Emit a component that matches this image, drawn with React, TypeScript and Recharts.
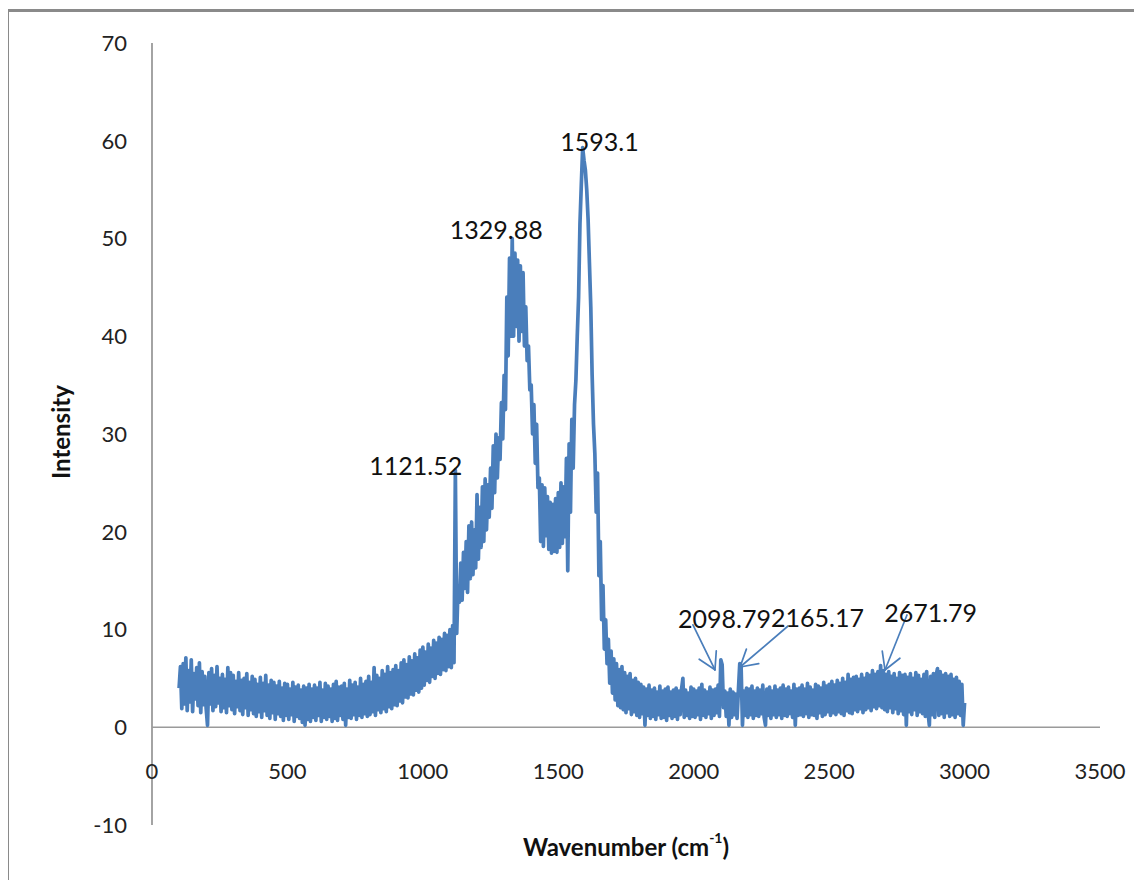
import React from 'react';
import { LineChart, Line, XAxis, YAxis, ReferenceLine, ReferenceDot, Label } from 'recharts';

// Wavenumber sampling of the spectrum (cm^-1)
const wavenumberStart = 100;
const wavenumberStep = 5;

// Intensity values, one row per 100 cm^-1
const lowBaseline = [
  4.0, 6.2, 1.9, 6.5, 2.4, 7.1, 1.7, 5.8, 2.6, 6.9, 1.6, 5.5, 2.9, 6.1, 2.2, 6.6, 1.5, 5.7, 2.3, 5.2,
  1.9, 0.2, 5.6, 2.4, 6.0, 1.7, 5.3, 2.1, 6.2, 2.5, 5.0, 1.6, 5.4, 2.0, 4.9, 1.5, 6.1, 2.2, 5.6, 1.8,
  5.3, 1.4, 4.7, 2.1, 5.6, 1.7, 4.8, 1.3, 5.0, 2.0, 5.5, 1.2, 4.6, 1.8, 5.2, 1.4, 4.9, 1.1, 4.4, 1.6,
  5.1, 1.0, 4.5, 1.7, 5.3, 1.2, 4.3, 0.9, 4.8, 1.5, 4.6, 0.8, 4.2, 1.4, 4.7, 1.1, 4.0, 0.7, 4.5, 1.2,
  4.4, 0.8, 3.9, 1.3, 4.6, 0.6, 4.1, 1.1, 4.3, 0.9, 3.8, 0.5, 4.2, 0.2, 4.0, 0.8, 4.4, 0.6, 3.9, 1.0,
  4.3, 0.7, 4.0, 1.2, 4.6, 0.6, 3.8, 1.0, 4.5, 0.8, 4.2, 1.1, 3.9, 0.6, 4.4, 0.9, 4.7, 0.7, 4.1, 1.2,
  4.2, 0.8, 4.5, 0.2, 3.9, 1.0, 4.8, 0.9, 4.3, 1.3, 4.6, 0.8, 4.1, 1.2, 5.0, 1.0, 4.4, 1.4, 4.7, 1.1,
  5.2, 1.3, 4.6, 1.6, 6.1, 1.2, 5.3, 1.8, 5.0, 1.5, 5.8, 1.9, 5.4, 1.6, 6.2, 2.1, 5.6, 1.9, 5.9, 2.3,
  6.3, 2.2, 5.8, 2.7, 6.6, 2.5, 6.9, 3.1, 6.4, 3.0, 7.2, 3.4, 6.8, 3.3, 7.5, 3.8, 7.1, 3.6, 7.9, 4.0,
];
const dgBands = [
  8.2, 4.3, 7.7, 4.8, 8.5, 4.6, 8.1, 5.2, 8.9, 5.0, 8.6, 5.5, 9.2, 5.4, 9.0, 5.9, 9.6, 5.8, 9.4, 6.2,
  10.0, 6.1, 10.4, 6.6, 26.3, 9.6, 14.5, 12.8, 16.8, 13.0, 17.9, 14.2, 19.0, 13.8, 20.6, 15.2, 21.0, 15.6, 20.2, 16.3,
  23.8, 17.2, 22.5, 18.4, 24.6, 19.0, 25.4, 20.2, 24.8, 21.5, 26.5, 22.4, 28.8, 24.0, 30.0, 25.5, 29.6, 27.4, 33.2, 29.5,
  36.0, 32.5, 44.0, 38.0, 48.0, 40.0, 50.0, 40.0, 48.5, 41.0, 47.8, 39.5, 47.2, 40.5, 46.5, 39.0, 43.0, 37.5, 39.0, 34.5,
  35.0, 30.0, 33.0, 27.0, 31.0, 24.5, 25.5, 19.0, 24.8, 18.5, 24.5, 19.6, 23.6, 18.2, 23.0, 17.8, 22.8, 18.0, 23.4, 17.9,
  24.0, 18.4, 25.0, 18.8, 24.6, 19.5, 27.5, 16.0, 29.0, 22.0, 31.5, 26.5, 33.0, 35.5, 40.0, 44.0, 51.5, 55.5, 59.3, 58.0,
];
const tailRegion = [
  57.0, 55.0, 52.0, 47.5, 43.0, 36.0, 31.0, 28.0, 22.0, 26.0, 15.5, 19.0, 11.0, 14.5, 8.0, 11.0, 6.5, 9.0, 4.5, 7.8,
  3.5, 7.0, 2.8, 6.5, 2.2, 5.9, 2.0, 6.2, 1.8, 5.6, 1.5, 5.2, 1.9, 5.5, 1.3, 4.8, 1.6, 5.0, 1.2, 4.6,
  1.0, 4.4, 1.4, 4.1, 0.2, 3.9, 1.2, 4.3, 0.9, 3.8, 1.1, 4.0, 0.8, 3.6, 1.3, 4.2, 0.9, 3.7, 1.0, 3.9,
  0.7, 4.1, 1.2, 3.6, 0.9, 3.8, 1.1, 4.0, 0.8, 3.7, 1.3, 3.9, 5.0, 1.0, 3.8, 1.2, 3.5, 0.9, 4.1, 1.1,
  3.9, 1.0, 3.7, 1.3, 4.0, 0.8, 4.4, 1.2, 3.8, 1.0, 3.6, 1.4, 4.1, 0.9, 3.8, 1.2, 3.9, 1.5, 4.3, 1.1,
  6.9, 6.4, 2.0, 3.7, 1.1, 3.5, 0.2, 3.9, 1.0, 3.6, 1.3, 3.4, 0.9, 3.8, 6.5, 6.2, 0.2, 3.7, 1.2, 4.0,
  1.0, 3.9, 1.3, 4.2, 0.9, 3.7, 1.2, 4.0, 1.1, 3.8, 1.4, 4.3, 1.0, 0.2, 3.9, 1.2, 4.1, 0.9, 3.7, 1.3,
];
const highRegion = [
  4.2, 1.0, 3.8, 1.3, 4.0, 0.9, 4.3, 1.2, 3.9, 1.1, 4.1, 1.4, 3.7, 1.0, 4.4, 0.2, 3.9, 1.2, 4.0, 1.3,
  4.3, 1.1, 3.9, 1.4, 4.5, 1.0, 4.1, 1.3, 3.8, 1.2, 4.4, 0.9, 4.2, 1.5, 4.0, 1.1, 4.6, 1.3, 4.2, 1.6,
  4.4, 1.2, 4.7, 1.5, 4.3, 1.3, 4.8, 1.6, 4.5, 1.4, 5.0, 1.2, 4.6, 1.7, 5.4, 1.5, 4.9, 1.4, 5.1, 1.8,
  5.2, 1.6, 4.9, 1.9, 5.4, 1.5, 5.0, 1.8, 5.5, 2.0, 5.3, 1.7, 5.8, 2.1, 5.4, 1.9, 5.7, 2.2, 6.3, 2.0,
  5.8, 1.8, 5.4, 1.6, 5.7, 2.0, 5.2, 1.5, 5.5, 1.9, 5.0, 1.4, 5.6, 1.7, 5.3, 1.3, 5.4, 0.2, 5.1, 1.6,
  5.5, 1.3, 5.0, 1.8, 5.6, 1.2, 5.3, 1.6, 4.9, 1.4, 5.4, 1.1, 5.7, 1.5, 0.2, 5.2, 1.3, 5.5, 1.0, 5.3,
  6.0, 1.2, 5.7, 1.4, 5.3, 1.0, 5.5, 1.5, 5.2, 1.1, 5.4, 1.3, 4.9, 1.0, 5.1, 1.4, 4.7, 1.2, 4.4, 0.2,
  2.5,
];

const xTicks = [0, 500, 1000, 1500, 2000, 2500, 3000, 3500];
const yTicks = [-10, 0, 10, 20, 30, 40, 50, 60, 70];

const peakLabels = ['1121.52', '1329.88', '1593.1', '2098.79', '2165.17', '2671.79'];
const peakWavenumbers = [1121.52, 1329.88, 1593.1, 2098.79, 2165.17, 2671.79];
const peakIntensities = [26.3, 50.0, 59.3, 6.9, 6.5, 6.3];

const intensities = [...lowBaseline, ...dgBands, ...tailRegion, ...highRegion];
const data = intensities.map((v, i) => ({
  wavenumber: wavenumberStart + i * wavenumberStep,
  intensity: v,
}));

// ---- layout / style ----
const FONT = 'Lato, "Open Sans", "DejaVu Sans", sans-serif';
const LINE_COLOR = '#4a7ebb';
const AXIS_COLOR = '#9a9a9a';
const BORDER_COLOR = '#8a8a8a';
const TICK_FONT = 22;
const ANNOT_FONT = 25;
const TITLE_FONT = 24;
const X_TICK_OFFSET = -55;

const labelLayout: Record<string, any> = {
  '1121.52': { dx: -40, dy: -5 },
  '1329.88': { dx: -16, dy: -10 },
  '1593.1': { dx: 16, dy: -7 },
  '2098.79': { dx: 4, dy: -42, arrow: { sx: -27.5, sy: -35, tx: -5.5, ty: 10 } },
  '2165.17': { dx: 79, dy: -47, arrow: { sx: 49.6, sy: -37.7, tx: 1.6, ty: 3.3 } },
  '2671.79': { dx: 55, dy: -54, arrow: { sx: 31.3, sy: -50.7, tx: 9.3, ty: 4.3 } },
};

function Arrow({ x1, y1, x2, y2 }: any) {
  const ang = Math.atan2(y2 - y1, x2 - x1);
  const len = 19;
  const spread = Math.PI / 6;
  const a1 = ang + Math.PI - spread;
  const a2 = ang + Math.PI + spread;
  return (
    <g stroke={LINE_COLOR} strokeWidth={1.7} fill="none" strokeLinecap="round">
      <line x1={x1} y1={y1} x2={x2} y2={y2} />
      <line x1={x2} y1={y2} x2={x2 + len * Math.cos(a1)} y2={y2 + len * Math.sin(a1)} />
      <line x1={x2} y1={y2} x2={x2 + len * Math.cos(a2)} y2={y2 + len * Math.sin(a2)} />
    </g>
  );
}

function makeAnnotation(label: string) {
  return (p: any) => {
    const l = labelLayout[label];
    const cx = p.cx;
    const cy = p.cy;
    return (
      <g>
        {l.arrow && (
          <Arrow x1={cx + l.arrow.sx} y1={cy + l.arrow.sy} x2={cx + l.arrow.tx} y2={cy + l.arrow.ty} />
        )}
        <text
          x={cx + l.dx}
          y={cy + l.dy}
          textAnchor="middle"
          dominantBaseline="central"
          fontFamily={FONT}
          fontSize={ANNOT_FONT}
          fill="#111"
        >
          {label}
        </text>
      </g>
    );
  };
}

function XTick({ x, y, payload }: any) {
  return (
    <text
      x={x}
      y={y + X_TICK_OFFSET}
      textAnchor="middle"
      dominantBaseline="central"
      fontFamily={FONT}
      fontSize={TICK_FONT}
      fill="#222"
    >
      {payload.value}
    </text>
  );
}

function XTitle(props: any) {
  const vb = props.viewBox || { x: 144, y: 817, width: 948 };
  return (
    <text
      x={vb.x + vb.width / 2}
      y={vb.y + 21}
      textAnchor="middle"
      dominantBaseline="central"
      fontFamily={FONT}
      fontSize={TITLE_FONT}
      fontWeight="bold"
      fill="#111"
    >
      <tspan>Wavenumber (cm</tspan>
      <tspan dy={-9} fontSize={14}>-1</tspan>
      <tspan dy={9}>)</tspan>
    </text>
  );
}

function YTitle(props: any) {
  const vb = props.viewBox || { x: 0, y: 35, width: 144, height: 782 };
  const x = vb.x + 52;
  const y = vb.y + vb.height / 2 - 2;
  return (
    <text
      x={x}
      y={y}
      transform={`rotate(-90, ${x}, ${y})`}
      textAnchor="middle"
      dominantBaseline="central"
      fontFamily={FONT}
      fontSize={TITLE_FONT}
      fontWeight="bold"
      fill="#111"
    >
      Intensity
    </text>
  );
}

export default function App() {
  return (
    <div style={{ position: 'relative', width: 1126, height: 872 }}>
      <LineChart
        width={1126}
        height={872}
        data={data}
        margin={{ top: 35, right: 34, bottom: 54, left: 0 }}
      >
        <XAxis
          dataKey="wavenumber"
          type="number"
          domain={[0, 3500]}
          ticks={xTicks}
          height={1}
          axisLine={false}
          tickLine={false}
          tickSize={0}
          tickMargin={0}
          tick={<XTick />}
          interval={0}
        >
          <Label content={<XTitle />} />
        </XAxis>
        <YAxis
          type="number"
          domain={[-10, 70]}
          ticks={yTicks}
          width={144}
          tickLine={false}
          tickSize={0}
          tickMargin={25}
          interval={0}
          axisLine={{ stroke: AXIS_COLOR, strokeWidth: 1.8 }}
          tick={{ fontFamily: FONT, fontSize: TICK_FONT, fill: '#222' }}
        >
          <Label content={<YTitle />} />
        </YAxis>
        <ReferenceLine y={0} stroke={AXIS_COLOR} strokeWidth={1.6} />
        <Line
          type="linear"
          dataKey="intensity"
          stroke={LINE_COLOR}
          strokeWidth={3.7}
          strokeLinejoin="round"
          dot={false}
          activeDot={false}
          isAnimationActive={false}
        />
        {peakLabels.map((label, i) => (
          <ReferenceDot
            key={label}
            x={peakWavenumbers[i]}
            y={peakIntensities[i]}
            r={2}
            ifOverflow="visible"
            shape={makeAnnotation(label)}
          />
        ))}
      </LineChart>
      <div
        style={{
          position: 'absolute',
          left: -2,
          top: 1,
          width: 3,
          height: 871,
          background: BORDER_COLOR,
          zIndex: 5,
        }}
      />
      <div
        style={{
          position: 'absolute',
          left: -2,
          top: 1,
          width: 1136,
          height: 3,
          background: BORDER_COLOR,
          zIndex: 5,
        }}
      />
    </div>
  );
}
